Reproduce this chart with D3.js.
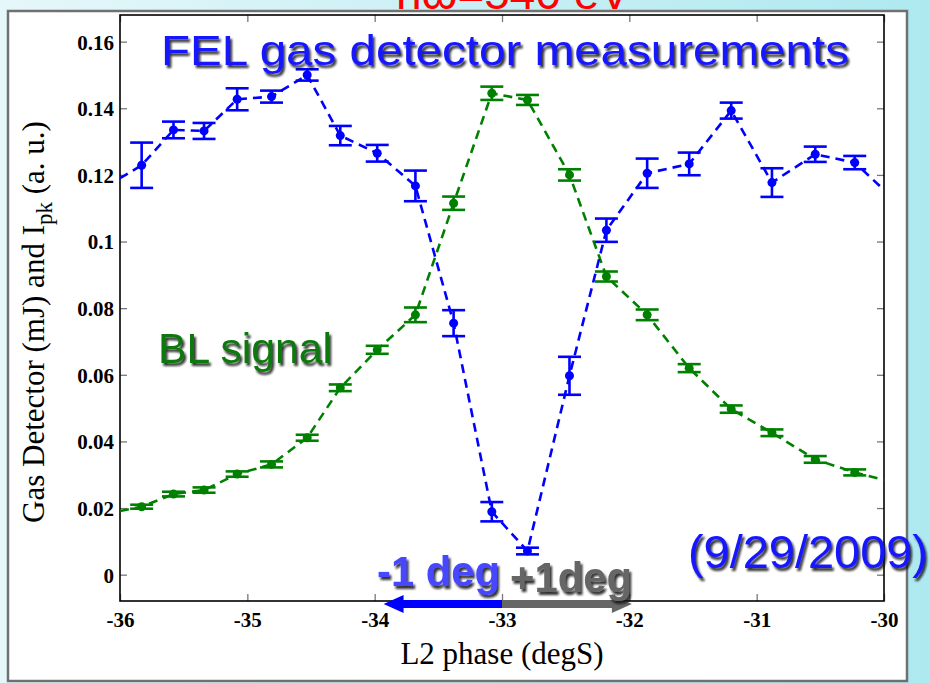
<!DOCTYPE html>
<html>
<head>
<meta charset="utf-8">
<script src="https://cdn.jsdelivr.net/npm/d3@7"></script>
<style>
	html, body { margin: 0; padding: 0; }
	svg { display: block; }
</style>
</head>
<body>
<svg id="chart" width="930" height="683"></svg>
<script>
// L2 phase of each measurement (degS)
var phase = [-35.83, -35.58, -35.34, -35.08, -34.81, -34.53, -34.27, -33.98, -33.68, -33.38,
             -33.08, -32.80, -32.47, -32.18, -31.86, -31.53, -31.20, -30.88, -30.54, -30.23];

// FEL gas detector (mJ), blue
var felGas = [0.1229, 0.1335, 0.1332, 0.1427, 0.1435, 0.1500, 0.1318, 0.1265, 0.1167, 0.0755,
              0.0189, 0.0071, 0.0597, 0.1034, 0.1205, 0.1233, 0.1393, 0.1177, 0.1262, 0.1237];
var felGasErr = [0.0068, 0.0025, 0.0024, 0.0033, 0.0018, 0.0017, 0.0029, 0.0025, 0.0046, 0.0039,
                 0.0029, 0.0010, 0.0057, 0.0035, 0.0044, 0.0034, 0.0024, 0.0043, 0.0023, 0.0020];
// where the dashed line meets the left / right frame
var felGasEdge = [0.1190, 0.1155];

// BL signal (Ipk, a. u.), green
var blSignal = [0.0204, 0.0242, 0.0254, 0.0302, 0.0331, 0.0411, 0.0561, 0.0675, 0.0780, 0.1115,
                0.1445, 0.1425, 0.1200, 0.0895, 0.0780, 0.0620, 0.0497, 0.0426, 0.0346, 0.0307];
var blSignalErr = [0.0006, 0.0007, 0.0008, 0.0008, 0.0009, 0.0009, 0.0010, 0.0012, 0.0022, 0.0020,
                   0.0020, 0.0015, 0.0017, 0.0015, 0.0016, 0.0012, 0.0011, 0.0010, 0.0010, 0.0009];
var blSignalEdge = [0.0191, 0.0284];

var xTicks = [-36, -35, -34, -33, -32, -31, -30];
var yTicks = [0, 0.02, 0.04, 0.06, 0.08, 0.1, 0.12, 0.14, 0.16];

// phase step arrows (degS)
var steps = [
	{from: -33, to: -33.93, label: "-1 deg", color: "#0000ff", text: "#4646ff"},
	{from: -33, to: -31.98, label: "+1deg", color: "#666666", text: "#666666"}
];

var W = 930, H = 683;
var plot = {left: 120, right: 884, top: 15, bottom: 601};
var serif = "'Liberation Serif', 'Times New Roman', serif";
var sans = "'Liberation Sans', Arial, sans-serif";

var svg = d3.select("#chart");
var defs = svg.append("defs");

var grad = defs.append("linearGradient").attr("id", "bg")
	.attr("x1", 0).attr("y1", 0).attr("x2", 1).attr("y2", 0);
grad.append("stop").attr("offset", "0%").attr("stop-color", "#e6f7fa");
grad.append("stop").attr("offset", "100%").attr("stop-color", "#aee9f0");

var shadow = defs.append("filter").attr("id", "shadow")
	.attr("x", "-10%").attr("y", "-20%").attr("width", "130%").attr("height", "150%");
shadow.append("feDropShadow").attr("dx", 2).attr("dy", 3).attr("stdDeviation", 1.3)
	.attr("flood-color", "#111").attr("flood-opacity", 0.85);

defs.append("clipPath").attr("id", "plotclip").append("rect")
	.attr("x", plot.left).attr("y", plot.top)
	.attr("width", plot.right - plot.left).attr("height", plot.bottom - plot.top);

// slide background and white panel
svg.append("rect").attr("width", W).attr("height", H).attr("fill", "url(#bg)");
svg.append("rect").attr("x", 8).attr("y", 11).attr("width", 899).attr("height", 670)
	.attr("fill", "#fff").attr("stroke", "#707070").attr("stroke-width", 2.5);

// red energy label, mostly cut off at the top (as in the slide)
svg.append("text").attr("x", 513).attr("y", 9).attr("text-anchor", "middle")
	.attr("font-family", sans).attr("font-size", 46).attr("fill", "#ff0000")
	.text("\u0127\u03c9=540 eV");

var x = d3.scaleLinear().domain([-36, -30]).range([plot.left, plot.right]);
var y = d3.scaleLinear().domain([-0.0079, 0.168]).range([plot.bottom, plot.top]);

function styleAxis(g) {
	g.select(".domain").remove();
	g.selectAll(".tick line").attr("stroke", "#777").attr("stroke-width", 1.3);
	g.selectAll(".tick text").attr("font-family", serif).attr("font-weight", "bold")
		.attr("font-size", 21).attr("fill", "#000");
}

var fmtY = function (d) { return d === 0 ? "0" : String(+d.toFixed(2)); };

var xAxisG = svg.append("g").attr("transform", "translate(0," + plot.bottom + ")")
	.call(d3.axisBottom(x).tickValues(xTicks).tickSize(-7).tickPadding(7)
		.tickFormat(function (d) { return String(d); }))
	.call(styleAxis);
xAxisG.selectAll(".tick text").attr("dy", "0.9em");

svg.append("g").attr("transform", "translate(0," + plot.top + ")")
	.call(d3.axisTop(x).tickValues(xTicks).tickSize(-7).tickFormat(""))
	.call(styleAxis);

var yAxisG = svg.append("g").attr("transform", "translate(" + plot.left + ",0)")
	.call(d3.axisLeft(y).tickValues(yTicks).tickSize(-7).tickPadding(6).tickFormat(fmtY))
	.call(styleAxis);
yAxisG.selectAll(".tick text").attr("dy", "0.35em");

svg.append("g").attr("transform", "translate(" + plot.right + ",0)")
	.call(d3.axisRight(y).tickValues(yTicks).tickSize(-7).tickFormat(""))
	.call(styleAxis);

// frame
svg.append("rect").attr("x", plot.left).attr("y", plot.top)
	.attr("width", plot.right - plot.left).attr("height", plot.bottom - plot.top)
	.attr("fill", "none").attr("stroke", "#000").attr("stroke-width", 1.6);

// series
function drawSeries(values, errs, edge, color) {
	var pts = phase.map(function (p, i) { return [p, values[i]]; });
	var linePts = [[-36, edge[0]]].concat(pts, [[-30, edge[1]]]);
	var g = svg.append("g").attr("clip-path", "url(#plotclip)");
	g.append("path").datum(linePts)
		.attr("fill", "none").attr("stroke", color).attr("stroke-width", 2.6)
		.attr("stroke-dasharray", "9,6")
		.attr("d", d3.line().x(function (d) { return x(d[0]); }).y(function (d) { return y(d[1]); }));

	var bars = g.selectAll(null).data(pts).enter().append("g");
	var cap = 11.5;
	bars.append("line")
		.attr("x1", function (d) { return x(d[0]); }).attr("x2", function (d) { return x(d[0]); })
		.attr("y1", function (d, i) { return y(d[1] + errs[i]); })
		.attr("y2", function (d, i) { return y(d[1] - errs[i]); });
	bars.append("line")
		.attr("x1", function (d) { return x(d[0]) - cap; }).attr("x2", function (d) { return x(d[0]) + cap; })
		.attr("y1", function (d, i) { return y(d[1] + errs[i]); })
		.attr("y2", function (d, i) { return y(d[1] + errs[i]); });
	bars.append("line")
		.attr("x1", function (d) { return x(d[0]) - cap; }).attr("x2", function (d) { return x(d[0]) + cap; })
		.attr("y1", function (d, i) { return y(d[1] - errs[i]); })
		.attr("y2", function (d, i) { return y(d[1] - errs[i]); });
	bars.selectAll("line").attr("stroke", color).attr("stroke-width", 2.6);
	bars.append("circle")
		.attr("cx", function (d) { return x(d[0]); }).attr("cy", function (d) { return y(d[1]); })
		.attr("r", 4.5).attr("fill", color);
}

drawSeries(blSignal, blSignalErr, blSignalEdge, "#008000");
drawSeries(felGas, felGasErr, felGasEdge, "#0000ff");

// axis labels
svg.append("text").attr("x", 502).attr("y", 664).attr("text-anchor", "middle")
	.attr("font-family", serif).attr("font-size", 31).attr("fill", "#000")
	.text("L2 phase (degS)");

var yl = svg.append("text")
	.attr("transform", "translate(44,322) rotate(-90)")
	.attr("text-anchor", "middle")
	.attr("font-family", serif).attr("font-size", 31).attr("fill", "#000");
yl.append("tspan").text("Gas Detector (mJ) and I");
yl.append("tspan").attr("dy", 8).attr("font-size", 23).text("pk");
yl.append("tspan").attr("dy", -8).text(" (a. u.)");

// phase step arrows
var ay = plot.bottom + 3;
steps.forEach(function (s) {
	var x0 = x(s.from), x1 = x(s.to);
	var dir = x1 > x0 ? 1 : -1;
	var head = 20;
	var xb = x1 - dir * head;
	svg.append("path")
		.attr("d", "M" + x0 + "," + (ay - 4) + "L" + xb + "," + (ay - 4) + "L" + xb + "," + (ay - 9) +
			"L" + x1 + "," + ay + "L" + xb + "," + (ay + 9) + "L" + xb + "," + (ay + 4) +
			"L" + x0 + "," + (ay + 4) + "Z")
		.attr("fill", s.color);
});

// annotations
function note(txt, xx, yy, size, color, weight, len) {
	var t = svg.append("text").attr("x", xx).attr("y", yy)
		.attr("font-family", sans).attr("font-size", size).attr("font-weight", weight)
		.attr("fill", color).attr("filter", "url(#shadow)").text(txt);
	if (len) t.attr("textLength", len).attr("lengthAdjust", "spacingAndGlyphs");
	return t;
}
note("FEL gas detector measurements", 161, 65, 43, "#1414ff", "normal", 688);
note("BL signal", 158, 363, 42, "#0a780a", "normal", 174);
note(steps[0].label, 377, 586, 42, steps[0].text, "bold", 123);
note(steps[1].label, 510, 592, 42, steps[1].text, "bold", 122);
note("(9/29/2009)", 688, 568, 47, "#1414ff", "normal", 240);
</script>
</body>
</html>
